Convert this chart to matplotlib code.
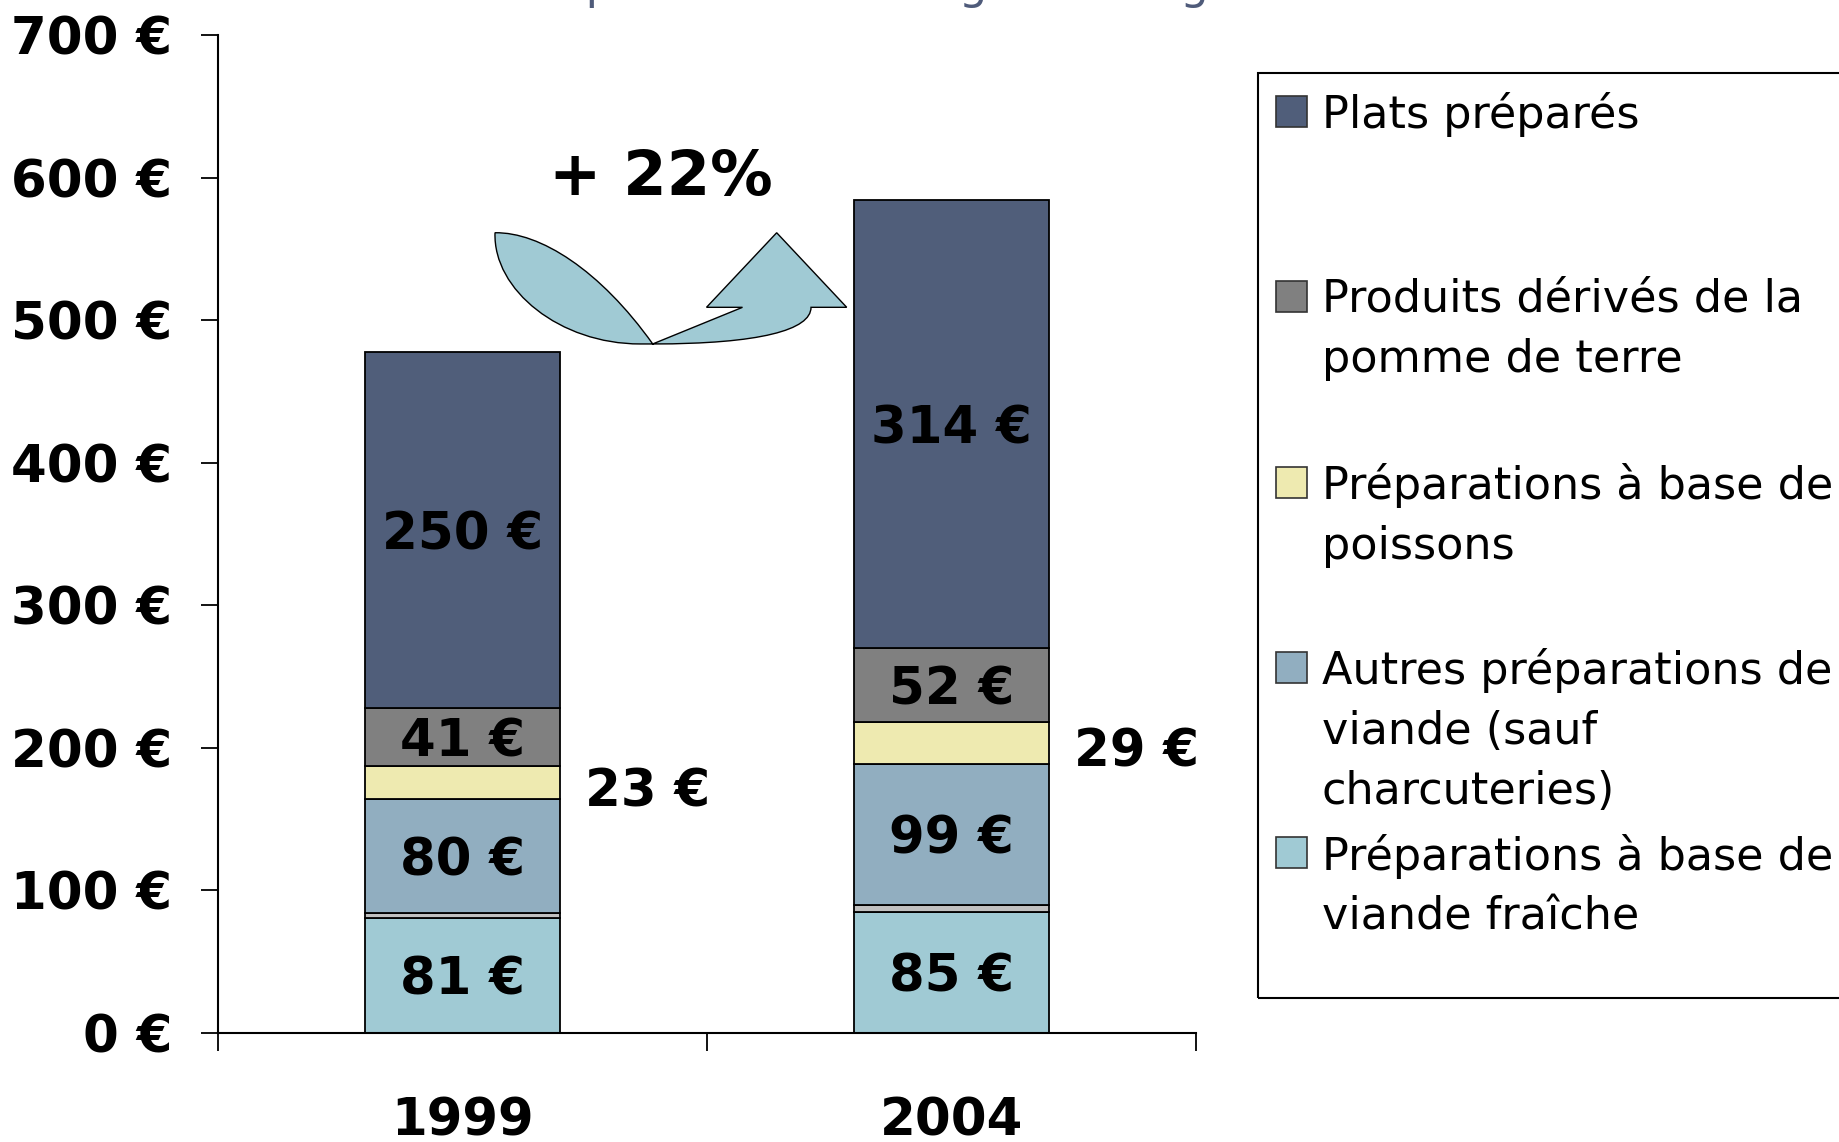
import numpy as np
import matplotlib
matplotlib.use('Agg')
import matplotlib.pyplot as plt
from matplotlib.patches import Rectangle, PathPatch
from matplotlib.path import Path
from matplotlib.transforms import offset_copy

# Données (en euros par ménage)
years = ['1999', '2004']
viande_fraiche = [81, 85]
divers = [3, 5]  # fine bande grise, absente de la légende
autres_viande = [80, 99]
poissons = [23, 29]
pomme_de_terre = [41, 52]
plats = [250, 314]

series = [viande_fraiche, divers, autres_viande, poissons, pomme_de_terre, plats]
colors = ['#A0CAD4', '#C0C0C0', '#91AEC0', '#EEEAB0', '#808080', '#505E7A']
# 'in' = étiquette dans la barre, 'out' = à droite, None = pas d'étiquette
label_mode = ['in', None, 'in', 'out', 'in', 'in']

legend_labels = ['Plats préparés',
                 'Produits dérivés de la\npomme de terre',
                 'Préparations à base de\npoissons',
                 'Autres préparations de\nviande (sauf\ncharcuteries)',
                 'Préparations à base de\nviande fraîche']
legend_colors = ['#505E7A', '#808080', '#EEEAB0', '#91AEC0', '#A0CAD4']

y_ticks = [0, 100, 200, 300, 400, 500, 600, 700]
growth_label = '+ 22%'
title = 'La dépense des ménages en augmentation'

W, H = 1839, 1142
fig = plt.figure(figsize=(W / 100, H / 100), dpi=100)
ax = fig.add_axes([218 / W, 1 - 1033 / H, (1196 - 218) / W, (1033 - 35) / H])

# étiquettes un peu sous le centre du segment, comme l'original
in_tr = offset_copy(ax.transData, fig=fig, x=0, y=-4, units='points')
out_tr = offset_copy(ax.transData, fig=fig, x=0, y=-7, units='points')

# Barres empilées
x = np.arange(len(years))
bottom = np.zeros(len(years))
for vals, c, mode in zip(series, colors, label_mode):
    vals = np.array(vals)
    ax.bar(x, vals, 0.4, bottom=bottom, color=c, edgecolor='black', linewidth=1.3, zorder=2)
    for xi, b, v in zip(x, bottom, vals):
        if mode == 'in':
            ax.text(xi, b + v / 2, f'{v} €', ha='center', va='center', transform=in_tr,
                    fontsize=37, fontweight='bold', zorder=3)
        elif mode == 'out':
            ax.text(xi + 0.378, b + v / 2, f'{v} €', ha='center', va='center', transform=out_tr,
                    fontsize=37, fontweight='bold', zorder=3)
    bottom += vals

# Flèche courbe "+ 22%"
verts = [(0.0665, 561.3),
         (0.0624, 521.1), (0.1994, 483.3), (0.363, 483.3),
         (0.389, 483.3),
         (0.608, 483.3), (0.7127, 493.1), (0.7127, 509.0),
         (0.7857, 509.0),
         (0.6425, 561.3),
         (0.499, 509.0),
         (0.5726, 509.0),
         (0.389, 483.3),
         (0.2812, 535.2), (0.1585, 561.8), (0.0665, 561.3),
         (0.0665, 561.3)]
codes = [Path.MOVETO,
         Path.CURVE4, Path.CURVE4, Path.CURVE4,
         Path.LINETO,
         Path.CURVE4, Path.CURVE4, Path.CURVE4,
         Path.LINETO, Path.LINETO, Path.LINETO, Path.LINETO, Path.LINETO,
         Path.CURVE4, Path.CURVE4, Path.CURVE4,
         Path.CLOSEPOLY]
ax.add_patch(PathPatch(Path(verts, codes), facecolor='#A0CAD4', edgecolor='black',
                       linewidth=1.0, zorder=2))
ax.text(0.406, 600, growth_label, ha='center', va='center', fontsize=45, fontweight='bold')

# Axes
ax.set_xlim(-0.5, 1.5)
ax.set_ylim(0, 700)
ax.spines['top'].set_visible(False)
ax.spines['right'].set_visible(False)
ax.spines['left'].set_linewidth(1.5)
ax.spines['bottom'].set_linewidth(1.5)
ax.set_yticks(y_ticks)
ax.set_yticklabels([f'{v} €' for v in y_ticks], fontsize=37, fontweight='bold')
ax.tick_params(axis='y', length=12, width=1.3, pad=21)
ax.set_xticks(x)
ax.set_xticklabels(years, fontsize=37, fontweight='bold')
ax.tick_params(axis='x', which='major', length=0, pad=46)
ax.set_xticks([-0.5, 0.5, 1.5], minor=True)
ax.tick_params(axis='x', which='minor', length=13, width=1.3)

# Légende dessinée à la main (cadre coupé à droite comme l'original)
fig.add_artist(Rectangle((1258 / W, 1 - 998 / H), (1900 - 1258) / W, (998 - 73) / H,
                         transform=fig.transFigure, fill=False, edgecolor='black',
                         linewidth=1.5))
for i, (lab, c) in enumerate(zip(legend_labels, legend_colors)):
    yc = 111.4 + i * 185.3
    fig.add_artist(Rectangle((1276 / W, 1 - (yc + 15.5) / H), 31 / W, 31 / H,
                             transform=fig.transFigure, facecolor=c,
                             edgecolor='#333333', linewidth=1.2))
    fig.text(1322 / W, 1 - (yc - 19) / H, lab, ha='left', va='top',
             fontsize=32, linespacing=1.5)

# Titre (coupé en haut dans l'original : seuls les jambages dépassent)
fig.text(462 / W, 1 + 1 / H, title, ha='left', va='baseline', fontsize=32.5, color='#4F5B7A')

fig.savefig('out.png', dpi=100)
